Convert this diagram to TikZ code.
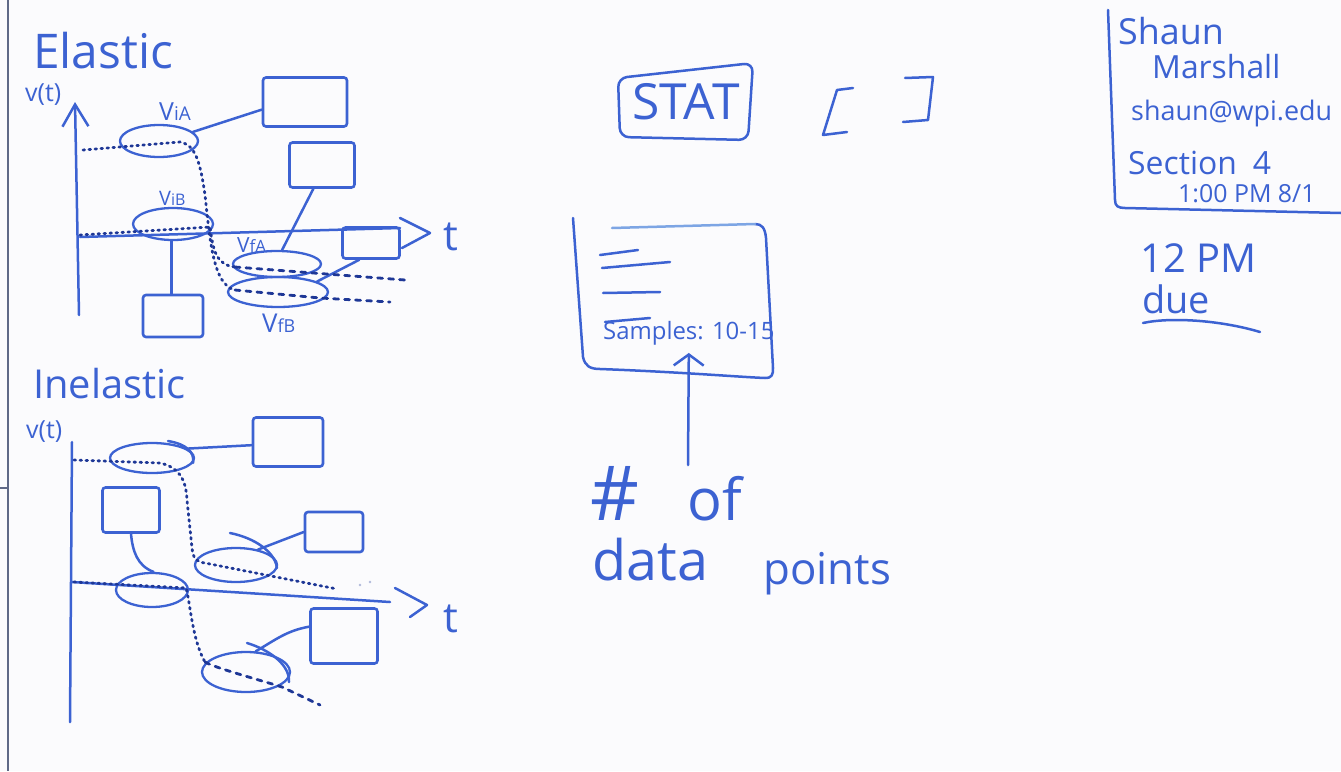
\documentclass[tikz,border=0pt]{standalone}
\usepackage{fontspec}
\setmainfont{Open Sans}
\usetikzlibrary{shapes.geometric,arrows.meta}
\definecolor{ink}{RGB}{60,98,210}
\definecolor{inklight}{RGB}{125,165,228}
\definecolor{dots}{RGB}{30,55,150}
\definecolor{board}{RGB}{251,251,253}
\definecolor{edge}{RGB}{95,105,135}
\newcommand\penfs[1]{\fontsize{#1}{#1}\selectfont}

\begin{document}
\begin{tikzpicture}[x=1bp,y=-1bp,
  pen/.style={draw=ink,line width=2.5bp,line cap=round,line join=round},
  oval/.style={ellipse,draw=ink,line width=2.3bp,inner sep=0pt},
  card/.style={draw=ink,line width=2.6bp,rounded corners=3bp,inner sep=0pt},
  trace/.style={draw=dots,line width=2.8bp,dash pattern=on 1.6bp off 4.4bp,line cap=round},
  dashtrace/.style={draw=dots,line width=2.8bp,dash pattern=on 5bp off 6bp,line cap=round},
  hand/.style={text=ink,inner sep=0pt,anchor=base west},
]
\fill[board] (0,0) rectangle (1341,771);
\useasboundingbox (0,0) rectangle (1341,771);

% edge of the board
\draw[edge,line width=2bp] (8,0) -- (8,771);
\draw[edge,line width=1.5bp] (0,488) -- (8,488);

% ---------------- elastic collision ----------------
\node[hand,font=\penfs{48}] (elastic) at (33,68) {Elastic};
\node[hand,font=\penfs{25}] (vte) at (25,101) {v(t)};

\draw[pen,-{Straight Barb[length=22bp,width=26bp]}] (79,315) -- (75,102);
\draw[pen] (80,237) -- (400,228);
\draw[pen] (400,218) -- (430,233) -- (402,248);
\node[hand,font=\penfs{42}] (te) at (443,250) {t};

\node[oval,minimum width=78bp,minimum height=32bp] (via) at (159,141) {};
\node[oval,minimum width=80bp,minimum height=32bp] (vib) at (173,224) {};
\node[oval,minimum width=88bp,minimum height=26bp] (vfa) at (277,264) {};
\node[oval,minimum width=100bp,minimum height=30bp] (vfb) at (278,292) {};

\node[hand] (lvia) at (159,120) {\penfs{25}V\penfs{19}iA};
\node[hand] (lvib) at (159,205) {\penfs{20}V\penfs{16}iB};
\node[hand] (lvfa) at (237,252) {\penfs{21}V\penfs{17}fA};
\node[hand] (lvfb) at (262,332) {\penfs{26}V\penfs{18}fB};

\node[card,minimum width=84bp,minimum height=49bp] (e1) at (305,102) {};
\node[card,minimum width=65bp,minimum height=45bp] (e2) at (322,165) {};
\node[card,minimum width=57bp,minimum height=31bp] (e3) at (371,243) {};
\node[card,minimum width=60bp,minimum height=42bp] (e4) at (173,316) {};

\draw[pen] (via.15) -- (e1.190);
\draw[pen] (e2.250) -- (vfa.70);
\draw[pen] (e3.235) -- (vfb.15);
\draw[pen] (vib.265) -- (vib.265 |- e4.north);

\draw[trace] (83,150) -- (180,142) .. controls (195,145) and (200,160) .. (205,195)
  .. controls (210,240) and (213,285) .. (235,290);
\draw[dashtrace] (235,290) -- (320,298) -- (390,302);
\draw[trace] (80,235) -- (210,227) .. controls (213,250) and (216,265) .. (235,267);
\draw[dashtrace] (235,267) -- (405,280);

% ---------------- inelastic collision ----------------
\node[hand,font=\penfs{40}] (inelastic) at (33,398) {Inelastic};
\node[hand,font=\penfs{25}] (vti) at (26,438) {v(t)};
\draw[pen] (72,442) -- (70,722);
\draw[pen] (72,582) -- (390,602);
\draw[pen] (395,588) -- (427,605) -- (410,617);
\node[hand,font=\penfs{42}] (ti) at (443,632) {t};

\node[oval,minimum width=84bp,minimum height=30bp] (i1) at (152,458) {};
\node[oval,minimum width=82bp,minimum height=34bp] (i2) at (236,565) {};
\node[oval,minimum width=72bp,minimum height=34bp] (i3) at (152,590) {};
\node[oval,minimum width=88bp,minimum height=40bp] (i4) at (246,672) {};
\draw[pen] (168,441) .. controls (186,444) and (195,452) .. (193,463);
\draw[pen] (230,533) .. controls (255,538) and (275,552) .. (277,568);
\draw[pen] (247,643) .. controls (270,650) and (290,665) .. (289,682);

\node[card,minimum width=70bp,minimum height=49bp] (i1b) at (288,442) {};
\node[card,minimum width=58bp,minimum height=40bp] (i2b) at (334,532) {};
\node[card,minimum width=57bp,minimum height=45bp] (i3b) at (131,510) {};
\node[card,minimum width=67bp,minimum height=55bp] (i4b) at (344,636) {};

\draw[pen] (i1.15) -- (i1b.185);
\draw[pen] (i2.35) -- (i2b.west);
\draw[pen] (i3b.south) to[out=-85,in=160] (i3.85);
\draw[pen] (i4.65) to[out=30,in=190] (i4b.165);

\draw[trace] (74,460) -- (160,463) .. controls (178,467) and (186,478) .. (187,500)
  -- (192,548) .. controls (193,558) and (196,562) .. (205,563) -- (337,589);
\fill[dots!35] (360,585) circle (1.4bp) (370,582) circle (1.4bp);
\draw[trace] (74,582) -- (186,588) .. controls (190,600) and (192,640) .. (205,662);
\draw[dashtrace] (205,662) .. controls (215,668) and (260,680) .. (282,687) -- (320,705);

% ---------------- STAT screen ----------------
\node[hand,anchor=center,font=\penfs{50}] (stat) at (686,102) {STAT};
\draw[pen,rounded corners=9bp] (618,78) -- (753,63) -- (748,140) -- (620,137) -- cycle;
\draw[pen] (853,88) -- (837,90) -- (823,135) -- (847,132);
\draw[pen] (905,78) -- (933,77) -- (928,120) -- (903,122);

\draw[pen] (573,218) -- (583,357) .. controls (585,366) and (590,369) .. (600,369)
  .. controls (680,372) and (740,377) .. (765,378) .. controls (772,378) and (773,375) .. (773,368)
  -- (766,238) .. controls (765,228) and (762,224) .. (755,224);
\draw[pen,draw=inklight] (755,224) -- (612,228);
\draw[pen] (600,255) -- (638,250);
\draw[pen] (602,268) -- (670,262);
\draw[pen] (603,293) -- (660,292);
\draw[pen] (605,322) -- (650,318);
\node[hand,font=\penfs{24}] (samples) at (603,339) {Samples: 10-15};

\node[hand,font=\penfs{76}] (hash) at (590,520) {\#};
\node[hand,font=\penfs{58}] (of) at (687,520) {of};
\node[hand,font=\penfs{56}] (data) at (592,580) {data};
\node[hand,font=\penfs{44}] (points) at (763,584) {points};
\coordinate (tail) at (688,465);
\draw[pen,-{Straight Barb[length=11bp,width=30bp]}] (tail) -- ([yshift=-8bp]samples.south);

% ---------------- contact panel ----------------
\draw[pen] (1108,10) -- (1115,200) .. controls (1115,206) and (1118,208) .. (1125,208) -- (1341,213);
\node[hand,font=\penfs{36}] (name1) at (1118,45) {Shaun};
\node[hand,font=\penfs{32}] (name2) at (1152,78) {Marshall};
\node[hand,font=\penfs{27}] (email) at (1131,120) {shaun@wpi.edu};
\node[hand,font=\penfs{32}] (section) at (1128,174) {Section\hspace{16bp}4};
\node[hand,font=\penfs{25}] (time) at (1178,202) {1:00 PM 8/1};
\node[hand,font=\penfs{40}] (noon) at (1140,272) {12 PM};
\node[hand,font=\penfs{38}] (due) at (1142,313) {due};
\draw[pen] (1143,323) .. controls (1170,317) and (1220,320) .. (1260,332);
\end{tikzpicture}
\end{document}
